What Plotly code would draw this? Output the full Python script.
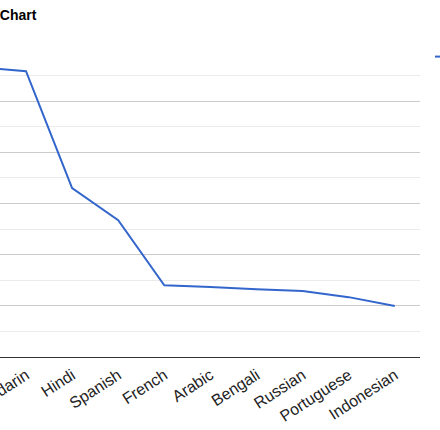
import plotly.graph_objects as go

languages = ["English", "Mandarin", "Hindi", "Spanish", "French", "Arabic",
             "Bengali", "Russian", "Portuguese", "Indonesian"]
speakers = [1132, 1117, 660, 535, 280, 274, 265, 258, 234, 199]
series_name = "Speakers (millions)"
title_text = "Most Spoken Languages Chart"

W, H = 440, 430
L, R, T, B = 0, 20, 50, 73
plot_w = W - L - R
plot_h = H - T - B
band = 46.1
first_center_px = 26
x0 = 1 - first_center_px / band
x1 = x0 + plot_w / band

font_family = "Arial, Liberation Sans, sans-serif"

fig = go.Figure()
fig.add_trace(go.Scatter(
    x=languages, y=speakers, mode="lines", name=series_name,
    line=dict(color="#3366cc", width=2),
))

fig.update_layout(
    width=W, height=H,
    margin=dict(l=L, r=R, t=T, b=B, autoexpand=False),
    paper_bgcolor="white", plot_bgcolor="white",
    font=dict(family=font_family, size=14, color="#222222"),
    showlegend=True,
    legend=dict(x=(430 - L) / plot_w, y=1 + 9 / plot_h, xanchor="left", yanchor="top",
                bgcolor="rgba(0,0,0,0)", font=dict(size=14)),
    xaxis=dict(
        type="category", range=[x0, x1], showgrid=False, zeroline=False,
        showline=False, tickangle=-33, ticks="", automargin=False,
        ticklabelstandoff=5,
        tickfont=dict(size=16, color="#222222"),
    ),
    yaxis=dict(
        range=[0, 1200], dtick=200, showgrid=True, gridcolor="#cccccc",
        gridwidth=1, zeroline=True, zerolinecolor="#333333", zerolinewidth=1,
        showticklabels=False, ticks="", automargin=False,
        minor=dict(dtick=100, showgrid=True, gridcolor="#ebebeb", gridwidth=1),
    ),
    annotations=[dict(
        text="<b>" + title_text + "</b>", xref="paper", yref="paper",
        x=(39 - L) / plot_w, y=1, xanchor="right", yanchor="bottom", yshift=25,
        showarrow=False, font=dict(size=14, color="#000000", family=font_family),
    )],
)

fig.write_html("out.html", config={"displayModeBar": False},
               post_script="document.body.style.margin='0';")
